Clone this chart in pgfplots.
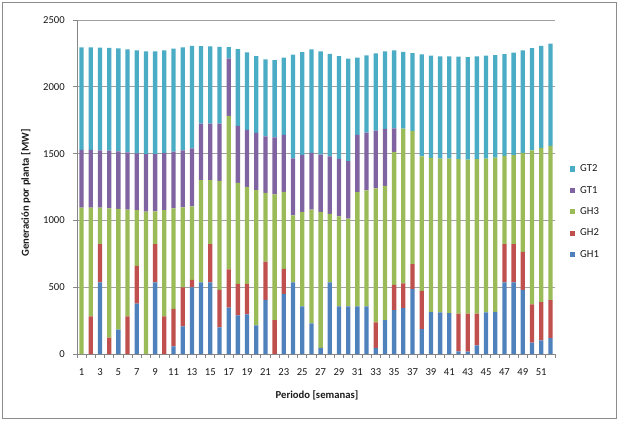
\documentclass[border=0pt]{standalone}
\usepackage{pgfplots}
\usepackage{pgfplotstable}
\pgfplotsset{compat=1.18}
\usepackage{fontspec}
\setmainfont{Carlito}

\definecolor{ghone}{HTML}{4F81BD}
\definecolor{ghtwo}{HTML}{C0504D}
\definecolor{ghthree}{HTML}{9BBB59}
\definecolor{gtone}{HTML}{8064A2}
\definecolor{gttwo}{HTML}{4BACC6}
\definecolor{axisgray}{HTML}{868686}
\definecolor{gridgray}{HTML}{A0A0A0}
\definecolor{framegray}{HTML}{8C8C8C}
\definecolor{textcol}{HTML}{1A1A1A}

% Weekly generation per plant [MW]
\pgfplotstableread{
x  GH1 GH2 GH3  GT1 GT2
1  0   0   1095 432 768
2  0   281 814  432 768
3  537 286 272  430 768
4  0   122 968  432 770
5  182 0   905  430 770
6  0   281 799  430 770
7  378 281 417  426 770
8  0   0   1066 431 768
9  537 286 245  429 768
10 0   281 795  429 767
11 57  281 752  425 770
12 206 292 599  428 770
13 498 57  550  435 767
14 537 0   764  424 579
15 537 286 478  424 577
16 199 281 816  429 574
17 348 286 1148 428 87
18 289 236 756  427 574
19 296 229 726  427 579
20 214 0   1012 430 574
21 405 287 514  423 576
22 0   254 940  427 579
23 450 187 577  427 577
24 537 0   501  427 775
25 356 0   707  427 770
26 229 0   851  425 775
27 45  0   1018 429 773
28 537 0   511  432 767
29 356 0   675  430 769
30 356 0   657  430 767
31 356 0   856  429 577
32 356 0   869  432 578
33 45  191 1004 432 578
34 254 0   1004 427 580
35 328 189 995  177 583
36 343 186 1157 0   576
37 486 187 997  0   582
38 187 285 1008 0   763
39 313 0   1155 0   765
40 311 0   1152 0   765
41 306 0   1157 0   765
42 20  283 1155 0   767
43 17  286 1152 0   768
44 65  238 1155 0   770
45 311 0   1152 0   770
46 316 0   1154 0   768
47 537 286 660  0   762
48 537 286 665  0   767
49 480 284 741  0   767
50 85  286 1154 0   765
51 102 286 1154 0   765
52 119 284 1154 0   767
}\datatable

\begin{document}
\begin{tikzpicture}[x=1bp,y=1bp]
\useasboundingbox (0,0) rectangle (619,422);
\begin{axis}[
  at={(77bp,68bp)}, anchor=south west,
  width=478bp, height=334bp, scale only axis,
  ybar stacked, bar width=4.3bp,
  xmin=0.5, xmax=52.5, ymin=0, ymax=2500,
  axis x line*=bottom, axis y line*=left,
  axis line style={draw=axisgray, line width=0.8bp, -},
  ymajorgrids, grid style={draw=gridgray, line width=0.8bp},
  tick align=outside, major tick length=4bp,
  tick style={draw=axisgray, line width=0.8bp},
  ytick={0,500,...,2500},
  xtick={0.5,1.5,...,52.5}, xticklabels={},
  extra x ticks={1,3,...,51},
  extra x tick labels={1,3,5,7,9,11,13,15,17,19,21,23,25,27,29,31,33,35,37,39,41,43,45,47,49,51},
  extra x tick style={major tick length=0pt, grid=none},
  /pgf/number format/assume math mode=true,
  /pgf/number format/1000 sep={},
  tick label style={font=\fontsize{10.7}{12}\selectfont, text=textcol},
  yticklabel style={inner sep=0pt, anchor=east, xshift=-8bp},
  xticklabel style={inner sep=0pt, anchor=north, yshift=-14bp},
  xlabel={\textbf{Periodo [semanas]}},
  ylabel={\textbf{Generación por planta [MW]}},
  label style={font=\fontsize{10.7}{12}\selectfont, text=textcol},
  xlabel style={at={(axis description cs:0.502,-0.124)}, anchor=center},
  ylabel style={at={(axis description cs:-0.107,0.482)}, anchor=center},
  reverse legend,
  legend image code/.code={\fill[#1] (0bp,-2.6bp) rectangle (5.2bp,2.6bp);},
  legend style={at={(axis description cs:1.031,0.569)}, anchor=north west,
    draw=none, fill=none, inner sep=0pt, row sep=11.9bp,
    font=\fontsize{10.7}{12}\selectfont, text=textcol,
    nodes={inner sep=0pt, text height=7.5bp, text depth=2bp},
    /tikz/every odd column/.append style={column sep=5bp},
    /tikz/every even column/.append style={column sep=0bp}},
  legend cell align=left,
]
\addplot[fill=ghone, draw=none] table[x=x, y=GH1] {\datatable};
\addplot[fill=ghtwo, draw=none] table[x=x, y=GH2] {\datatable};
\addplot[fill=ghthree, draw=none] table[x=x, y=GH3] {\datatable};
\addplot[fill=gtone, draw=none] table[x=x, y=GT1] {\datatable};
\addplot[fill=gttwo, draw=none] table[x=x, y=GT2] {\datatable};
\legend{GH1,GH2,GH3,GT1,GT2}
\end{axis}
\draw[framegray, line width=0.9bp] (2.5,3.5) rectangle (616.5,419.5);
\end{tikzpicture}
\end{document}
